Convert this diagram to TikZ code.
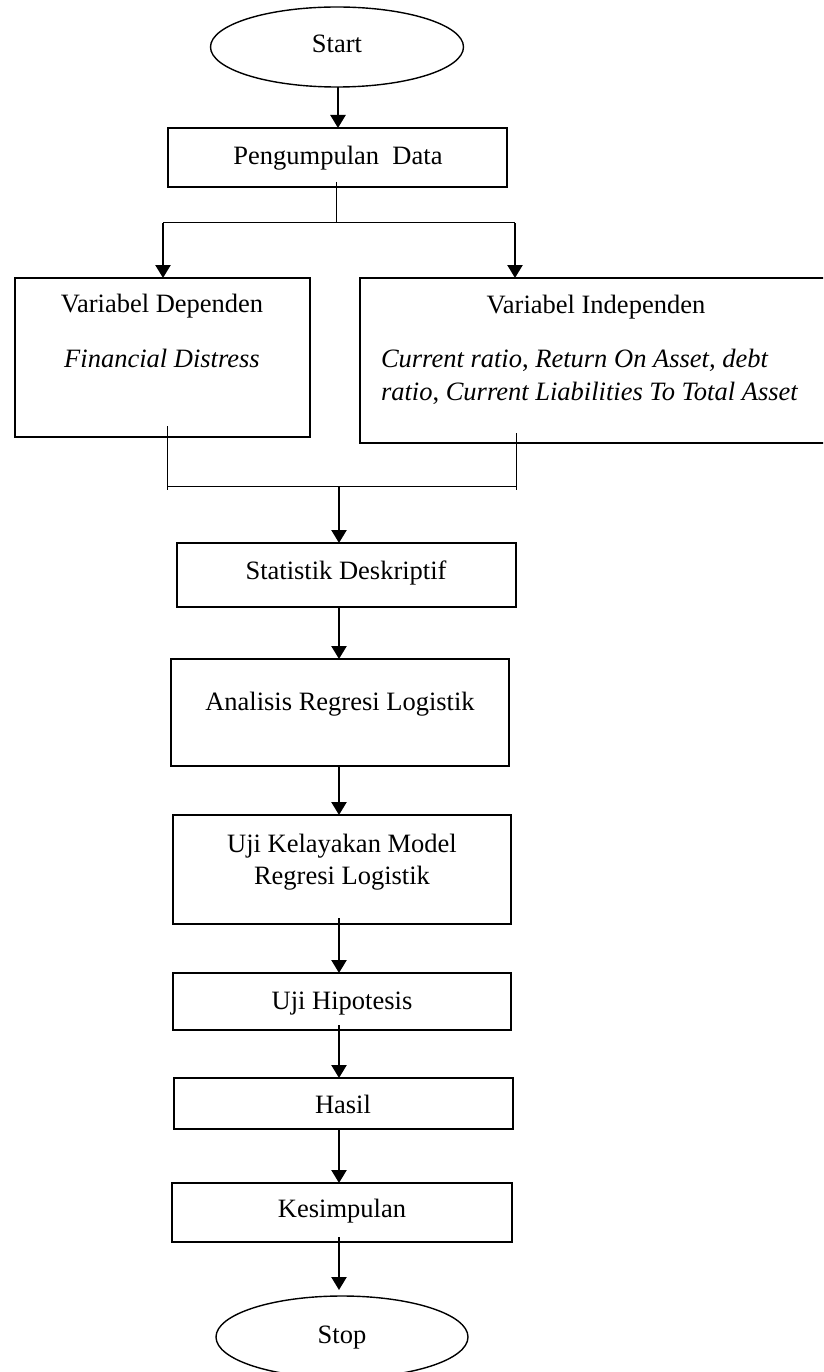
\documentclass[tikz,border=0pt]{standalone}
\usepackage{fontspec}
\setmainfont{Liberation Serif}
\usetikzlibrary{shapes.geometric,arrows.meta}
\begin{document}
\begin{tikzpicture}[x=1pt,y=-1pt,
  box/.style={draw,line width=1.8pt,rectangle,inner sep=0pt,outer sep=0pt},
  term/.style={draw,line width=1.4pt,ellipse,inner sep=0pt,outer sep=0pt,minimum width=253pt,minimum height=80pt},
  txt/.style={inner sep=0pt,outer sep=0pt,anchor=base,font=\fontsize{26.5}{32}\selectfont},
  txtl/.style={txt,anchor=base west},
  arr/.style={line width=2.4pt,-{Triangle[length=13pt,width=15pt]}},
  thin/.style={line width=1pt}]
\useasboundingbox (0,0) rectangle (823,1372);
\clip (0,0) rectangle (823,1372);
\fill[white] (0,0) rectangle (823,1372);

% shapes
\node[term] (start) at (337,47) {};
\node[box,minimum width=339pt,minimum height=59pt] (pd) at (337.5,157.5) {};
\node[box,minimum width=295pt,minimum height=159pt] (vd) at (162.5,357.5) {};
\node[box,minimum width=480pt,minimum height=165pt] (vi) at (600,360.5) {};
\node[box,minimum width=339pt,minimum height=64pt] (sd) at (346.5,575) {};
\node[box,minimum width=338pt,minimum height=107pt] (ar) at (340,712.5) {};
\node[box,minimum width=338pt,minimum height=109pt] (uk) at (342,869.5) {};
\node[box,minimum width=338pt,minimum height=57pt] (uh) at (342,1001.5) {};
\node[box,minimum width=339pt,minimum height=51pt] (ha) at (343.5,1103.5) {};
\node[box,minimum width=340pt,minimum height=59pt] (ks) at (342,1212.5) {};
\node[term,minimum width=252pt,minimum height=82pt] (stop) at (342,1337) {};

% texts
\node[txt] (tstart) at (337,53) {Start};
\node[txt] (tpd) at (338,165) {Pengumpulan\ \ Data};
\node[txt] (tvd1) at (162,312) {Variabel Dependen};
\node[txt] (tvd2) at (162,367) {\textit{Financial Distress}};
\node[txt] (tvi1) at (596,313) {Variabel Independen};
\node[txtl] (tvi2) at (381,367) {\textit{Current ratio}, \textit{Return On Asset, debt}};
\node[txtl] (tvi3) at (381,400) {\textit{ratio}, \textit{Current Liabilities To Total Asset}};
\node[txt] (tsd) at (346,579) {Statistik Deskriptif};
\node[txt] (tar) at (340,710) {Analisis Regresi Logistik};
\node[txt] (tuk1) at (342,852) {Uji Kelayakan Model};
\node[txt] (tuk2) at (342,884) {Regresi Logistik};
\node[txt] (tuh) at (342,1009) {Uji Hipotesis};
\node[txt] (tha) at (343,1113) {Hasil};
\node[txt] (tks) at (342,1217) {Kesimpulan};
\node[txt] (tstop) at (342,1343) {Stop};

% helper coordinates
\coordinate (xa) at (339,0);
\coordinate (xs) at (338,0);
\coordinate (s0) at (336,182);
\coordinate (sj) at (336,223);
\coordinate (sl) at (163,223);
\coordinate (sr) at (515,223);
\coordinate (ml0) at (167,426);
\coordinate (ml1) at (167,490);
\coordinate (mr0) at (516,433);
\coordinate (mr1) at (516,490);
\coordinate (mh0) at (167,486);
\coordinate (mh1) at (517,486);
\coordinate (mj) at (339,486);

% connectors
\draw[arr] (start.south -| xs) -- (pd.north -| xs);
\draw[thin] (s0) -- (sj);
\draw[thin] (sl) -- (sr);
\draw[arr] (sl) -- (sl |- vd.north);
\draw[arr] (sr) -- (sr |- vi.north);
\draw[thin] (ml0) -- (ml1);
\draw[thin] (mr0) -- (mr1);
\draw[thin] (mh0) -- (mh1);
\draw[arr] (mj) -- (sd.north -| mj);
\draw[arr] (sd.south -| xa) -- (ar.north -| xa);
\draw[arr] (ar.south -| xa) -- (uk.north -| xa);
\draw[arr] ([yshift=6pt]uk.south -| xa) -- (uh.north -| xa);
\draw[arr] ([yshift=5pt]uh.south -| xa) -- (ha.north -| xa);
\draw[arr] (ha.south -| xa) -- (ks.north -| xa);
\draw[arr,shorten >=6pt] ([yshift=5pt]ks.south -| xa) -- (stop.north -| xa);
\end{tikzpicture}
\end{document}
